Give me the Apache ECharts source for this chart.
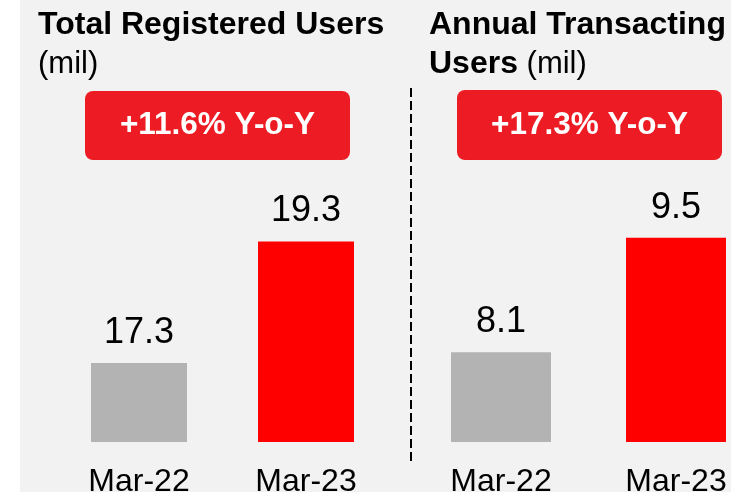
<!DOCTYPE html>
<html>
<head>
<meta charset="utf-8">
<script src="https://cdn.jsdelivr.net/npm/echarts@6/dist/echarts.min.js"></script>
<style>
  html, body { margin: 0; padding: 0; background: #fff; }
  #chart { width: 731px; height: 492px; }
</style>
</head>
<body>
<div id="chart"></div>
<script>
  // data
  var periods = ['Mar-22', 'Mar-23'];
  var registeredUsers = [17.3, 19.3];
  var transactingUsers = [8.1, 9.5];
  var badgeTexts = ['+11.6% Y-o-Y', '+17.3% Y-o-Y'];

  var barColors = ['#b3b3b3', '#ff0000'];
  var font = '"Liberation Sans", Arial, sans-serif';

  var chart = echarts.init(document.getElementById('chart'));

  function colorByIndex(p) { return barColors[p.dataIndex]; }

  var labelStyle = {
    show: true,
    position: 'top',
    distance: 12,
    fontFamily: font,
    fontSize: 36,
    color: '#000'
  };

  // boundaryGap false: bars sit centred on the grid edges
  var xAxisStyle = {
    type: 'category',
    data: periods,
    boundaryGap: false,
    axisLine: { show: false },
    axisTick: { show: false },
    axisLabel: { fontFamily: font, fontSize: 32, color: '#000', margin: 24 }
  };

  var options = {
    backgroundColor: '#f2f2f2',
    animation: false,
    grid: [
      { left: 139, width: 167, top: 199, bottom: 50, outerBoundsMode: 'none' },
      { left: 501, width: 175, top: 197, bottom: 50, outerBoundsMode: 'none' }
    ],
    xAxis: [
      Object.assign({ gridIndex: 0 }, xAxisStyle),
      Object.assign({ gridIndex: 1 }, xAxisStyle)
    ],
    yAxis: [
      { gridIndex: 0, type: 'value', min: 16, max: 20, show: false },
      { gridIndex: 1, type: 'value', min: 7, max: 10, show: false }
    ],
    series: [
      {
        type: 'bar',
        xAxisIndex: 0, yAxisIndex: 0,
        barWidth: 96,
        data: registeredUsers,
        itemStyle: { color: colorByIndex },
        label: labelStyle
      },
      {
        type: 'bar',
        xAxisIndex: 1, yAxisIndex: 1,
        barWidth: 100,
        data: transactingUsers,
        itemStyle: { color: colorByIndex },
        label: labelStyle
      }
    ],
    graphic: [
      // white strip on the far left
      { type: 'rect', left: 0, top: 0, shape: { width: 20, height: 492 }, style: { fill: '#fff' }, z: -1 },
      // titles
      {
        type: 'text', x: 38, y: 25,
        style: { text: 'Total Registered Users', font: 'bold 32px ' + font, fill: '#000', verticalAlign: 'middle' }
      },
      {
        type: 'text', x: 38, y: 64,
        style: { text: '(mil)', font: '31px ' + font, fill: '#000', verticalAlign: 'middle' }
      },
      {
        type: 'text', x: 429, y: 25,
        style: { text: 'Annual Transacting', font: 'bold 32px ' + font, fill: '#000', verticalAlign: 'middle' }
      },
      {
        type: 'text', x: 429, y: 64,
        style: {
          text: '{b|Users}{n| (mil)}',
          verticalAlign: 'middle',
          rich: {
            b: { fontFamily: font, fontWeight: 'bold', fontSize: 32, color: '#000' },
            n: { fontFamily: font, fontSize: 31, color: '#000' }
          }
        }
      },
      // Y-o-Y badges
      { type: 'rect', shape: { x: 85, y: 91, width: 265, height: 69, r: 8 }, style: { fill: '#ed1c24' } },
      {
        type: 'text', x: 217.5, y: 125.5,
        style: { text: badgeTexts[0], font: 'bold 31.5px ' + font, fill: '#fff', align: 'center', verticalAlign: 'middle' }
      },
      { type: 'rect', shape: { x: 457, y: 90, width: 265, height: 70, r: 8 }, style: { fill: '#ed1c24' } },
      {
        type: 'text', x: 589.5, y: 125,
        style: { text: badgeTexts[1], font: 'bold 31.5px ' + font, fill: '#fff', align: 'center', verticalAlign: 'middle' }
      },
      // dashed divider
      {
        type: 'line',
        shape: { x1: 411, y1: 88, x2: 411, y2: 465 },
        style: { stroke: '#000', lineWidth: 2, lineDash: [9, 4] }
      }
    ]
  };

  chart.setOption(options);
</script>
</body>
</html>
